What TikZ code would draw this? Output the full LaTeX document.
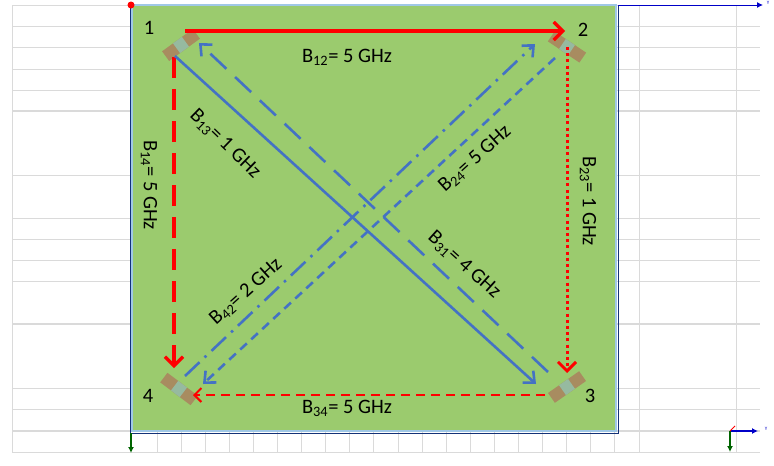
\documentclass[tikz,border=0pt]{standalone}
\usepackage{fontspec}
\setmainfont{Carlito}
\usetikzlibrary{arrows.meta, positioning, calc}
\definecolor{boardgreen}{RGB}{155,203,110}
\definecolor{patchbrown}{RGB}{168,140,96}
\definecolor{patchfeed}{RGB}{150,186,160}
\definecolor{linkblue}{RGB}{68,114,196}
\definecolor{linkred}{RGB}{255,0,0}
\definecolor{gridgray}{RGB}{218,218,218}
\definecolor{edgeblue}{RGB}{160,200,230}
\definecolor{edgenavy}{RGB}{20,50,120}
\definecolor{axisblue}{RGB}{0,0,200}
\definecolor{axisgreen}{RGB}{0,100,0}

\begin{document}
\begin{tikzpicture}[
  x=1pt, y=-1pt,
  font=\fontsize{20.5}{24}\selectfont,
  patch/.style={rectangle, fill=patchbrown, minimum width=38pt, minimum height=12pt, inner sep=0pt},
  feed/.style={rectangle, fill=patchfeed, minimum width=11pt, minimum height=12pt, inner sep=0pt},
  num/.style={on grid, inner sep=0pt},
  lbl/.style={inner sep=0pt},
  tiny/.style={inner sep=0pt, font=\fontsize{5}{6}\selectfont},
  redarr/.style={-{Straight Barb[length=9pt,width=18pt]}, line width=3.2pt, linkred},
  bluarr/.style={-{Straight Barb[length=9pt,width=16pt]}, line width=2.6pt, linkblue},
  gridline/.style={gridgray, line width=1pt},
  axisarr/.style={-{Latex[length=6pt,width=6pt]}, line width=1.2pt}
]
  \useasboundingbox (0,0) rectangle (774,466);
  % sheet grid
  \foreach \y in {5,26,47,69,90,175,218,239,260,281,388,409,452}
    \draw[gridline] (12,\y) -- (760,\y);
  \foreach \y in {111,324,431}
    \draw[gridline, line width=2.2pt] (12,\y) -- (760,\y);
  \foreach \x in {12,639,736}
    \draw[gridline] (\x,5) -- (\x,452);
  \foreach \i in {0,...,19}
    \draw[gridline] ({157+24.1*\i},431) -- ({157+24.1*\i},452);

  % board
  \fill[boardgreen] (131,5) rectangle (617,432);
  \draw[edgeblue, line width=2pt] (132,5) rectangle (616,431);
  \draw[edgenavy, line width=1pt] (130,5) -- (130,433) -- (618,433) -- (618,5);

  % axes
  \draw[axisarr, axisblue, line width=1pt] (618,5) -- (763,5);
  \fill[linkred] (131,5) circle[radius=3.5pt];
  \draw[axisarr, axisgreen] (131,433) -- (131,453);
  \draw[axisarr, axisblue] (730,431) -- (758,431);
  \draw[axisarr, axisgreen] (730,431) -- (730,452);
  \draw[linkred, line width=1pt] (730,431) -- (735,426);
  \node[tiny, axisblue] (ytop) at (768,3) {Y};
  \node[tiny, axisblue] (ybot) at (766,429) {Y};

  % elements
  \foreach \n/\x/\y/\a in {1/181/45/36, 2/567/47/-34, 3/567/387/35, 4/179/389/-37} {
    \node[patch, rotate=\a] (e\n) at (\x,\y) {};
    \node[feed, rotate=\a] (f\n) at (e\n) {};
  }
  \node[num, above left=17pt and 32pt of e1] (n1) {1};
  \node[num, above right=17pt and 16pt of e2] (n2) {2};
  \node[num, below right=9pt and 23pt of e3] (n3) {3};
  \node[num, below left=7pt and 31pt of e4] (n4) {4};

  % links
  \draw[redarr] ([shift={(4,-14)}]e1.center) -- ([shift={(-2,-16)}]e2.center);
  \draw[redarr, dash pattern=on 21pt off 11pt] ([shift={(-7,12)}]e1.center) -- ([shift={(-5,-21)}]e4.center);
  \draw[redarr, line width=3pt, dash pattern=on 3pt off 3.2pt] (e2.center) -- ([shift={(0,-14)}]e3.center);
  \draw[redarr, line width=2pt, dash pattern=on 9pt off 6pt, -{Straight Barb[length=7pt,width=14pt]}] ([shift={(-22,8)}]e3.center) -- ([shift={(14,6)}]e4.center);
  \draw[bluarr] ([shift={(-6,11)}]e1.center) -- ([shift={(-31,-3)}]e3.center);
  \draw[bluarr, dash pattern=on 22pt off 12pt] ([shift={(-19,-15)}]e3.center) -- ([shift={(18,-2)}]e1.center);
  \draw[bluarr, dash pattern=on 20pt off 7pt on 2.5pt off 7pt] ([shift={(6,-13)}]e4.center) -- ([shift={(-32,-3)}]e2.center);
  \draw[bluarr, dash pattern=on 9pt off 6pt] ([shift={(-12,11)}]e2.center) -- ([shift={(24,-5)}]e4.center);

  % bandwidth labels
  \node[lbl] (l12) at (347,57) {B\textsubscript{12}= 5 GHz};
  \node[lbl, rotate=-90] (l14) at (149,185) {B\textsubscript{14}= 5 GHz};
  \node[lbl, rotate=-90] (l23) at (588,201) {B\textsubscript{23}= 1 GHz};
  \node[lbl] (l34) at (347,408) {B\textsubscript{34}= 5 GHz};
  \node[lbl, rotate=-44] (l13) at (225,144) {B\textsubscript{13}= 1 GHz};
  \node[lbl, rotate=-42] (l31) at (464,265) {B\textsubscript{31}= 4 GHz};
  \node[lbl, rotate=42] (l24) at (475,159) {B\textsubscript{24}= 5 GHz};
  \node[lbl, rotate=42] (l42) at (246,292) {B\textsubscript{42}= 2 GHz};
\end{tikzpicture}
\end{document}
